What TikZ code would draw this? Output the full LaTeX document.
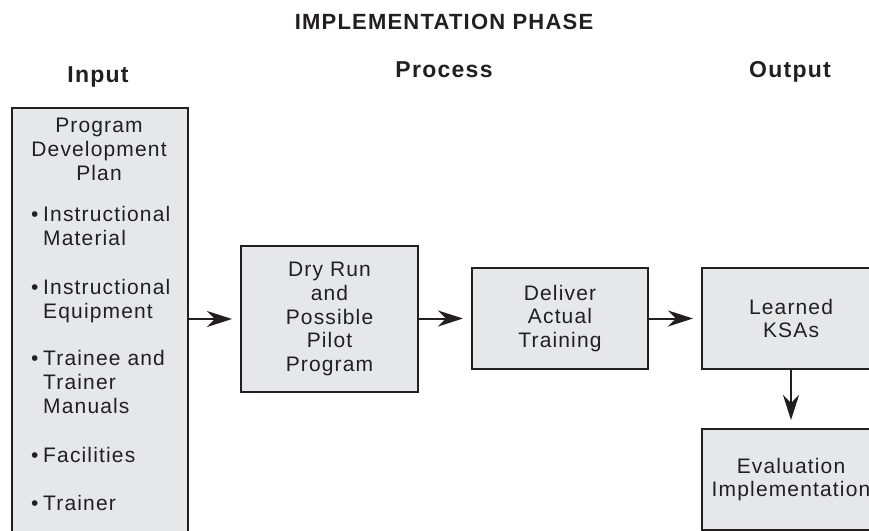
\documentclass[tikz,border=0pt]{standalone}
\usepackage{fontspec}
\setmainfont{Liberation Sans}[LetterSpace=5.5]
\usetikzlibrary{arrows.meta}
\definecolor{ink}{HTML}{231F20}
\definecolor{boxfill}{HTML}{E6E7E8}
\newcommand{\bul}{\makebox[12pt][l]{•}}
\newcommand{\hang}{\hspace*{12pt}}
\tikzset{
  blk/.style={draw=ink, line width=2pt, fill=boxfill, inner sep=0pt,
    align=center, font=\fontsize{21}{23.6}\selectfont, text=ink},
  body/.style={font=\fontsize{21}{23.6}\selectfont, text=ink, inner sep=0pt},
  head/.style={font=\fontsize{23}{27}\selectfont\bfseries, text=ink, inner sep=0pt},
  flow/.style={draw=ink, line width=2pt,
    -{Stealth[length=25pt,width=16pt,inset=8pt]}, shorten >=8pt},
}
\begin{document}
\begin{tikzpicture}[x=1pt,y=-1pt]
\useasboundingbox (0,0) rectangle (869,530);
\clip (0,0) rectangle (869,530);

% headings
\node[head, font=\fontsize{22}{26}\selectfont\bfseries, anchor=base] (title) at (444,29) {IMPLEMENTATION PHASE};
\node[head, anchor=base] (hin) at (98,82) {Input};
\node[head, anchor=base] (hproc) at (444,77) {Process};
\node[head, anchor=base] (hout) at (790,77) {Output};

% input column (base anchors sit on the last line of each block)
\node[blk, minimum width=176pt, minimum height=433pt, anchor=north west] (inbox) at (11,107) {};
\node[body, align=center, anchor=base] (plan) at (99,180) {Program\\Development\\Plan};
\node[body, align=left, anchor=base west] (i1) at (31,245) {\bul Instructional\\\hang Material};
\node[body, align=left, anchor=base west] (i2) at (31,318) {\bul Instructional\\\hang Equipment};
\node[body, align=left, anchor=base west] (i3) at (31,413) {\bul Trainee and\\\hang Trainer\\\hang Manuals};
\node[body, align=left, anchor=base west] (i4) at (31,462) {\bul Facilities};
\node[body, align=left, anchor=base west] (i5) at (31,510) {\bul Trainer};

% process boxes
\node[blk, minimum width=177pt, minimum height=146pt] (dry) at (329.5,319) {Dry Run\\and\\Possible\\Pilot\\Program};
\node[blk, minimum width=176pt, minimum height=101pt] (deliver) at (560,318.5) {Deliver\\Actual\\Training};

% output boxes
\node[blk, minimum width=178pt, minimum height=101pt] (learned) at (791,318.5) {Learned\\KSAs};
\node[blk, minimum width=178pt, minimum height=101pt] (eval) at (791,479.5) {Evaluation\\Implementation};

% connectors
\draw[flow] (inbox.east |- dry.west) -- (dry.west);
\draw[flow] (dry.east |- deliver.west) -- (deliver.west);
\draw[flow] (deliver.east) -- (learned.west);
\draw[flow] (learned.south) -- (eval.north);
\end{tikzpicture}
\end{document}
